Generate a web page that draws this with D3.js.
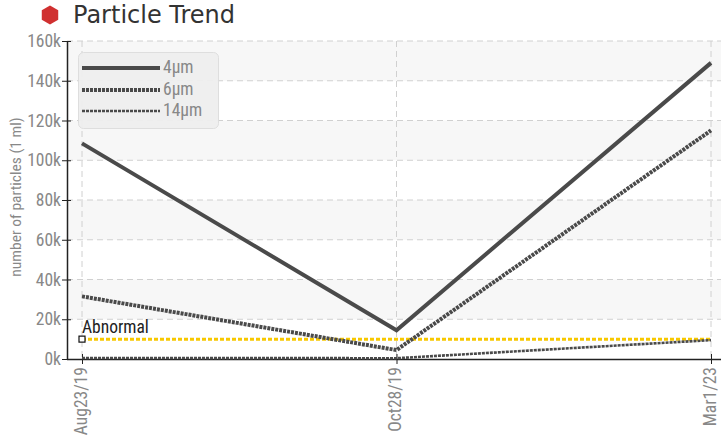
<!DOCTYPE html>
<html><head><meta charset="utf-8">
<script src="https://cdn.jsdelivr.net/npm/d3@7"></script>
<style>body{margin:0;background:#fff;}svg{display:block;}</style>
</head><body>
<svg id="c" width="721" height="443"></svg>
<script>
const dates = ["Aug23/19", "Oct28/19", "Mar1/23"];
const series4 = [108500, 14500, 149000];
const series6 = [31500, 4500, 115000];
const series14 = [500, 400, 9500];
const abnormal = [10000, 10000, 10000];
const seriesNames = ["4\u03bcm", "6\u03bcm", "14\u03bcm"];
const yTicks = [0, 20000, 40000, 60000, 80000, 100000, 120000, 140000, 160000];

const cond = "'Liberation Sans Narrow','Roboto Condensed','Roboto',sans-serif";
const svg = d3.select("#c");
const L = 67, R = 721, T = 41, B = 359;
const x = d3.scalePoint().domain(dates).range([82, 711]);
const y = d3.scaleLinear().domain([0, 160000]).range([B, T]);

// alternating bands, top band gray
const g = svg.append("g");
yTicks.slice(0, -1).forEach((v, i) => {
  const top = yTicks[i + 1];
  const idxFromTop = yTicks.length - 2 - i;
  if (idxFromTop % 2 === 0) {
    g.append("rect").attr("x", L).attr("width", R - L)
      .attr("y", y(top)).attr("height", y(v) - y(top)).attr("fill", "#f7f7f7");
  }
});

// horizontal grid
svg.append("g").selectAll("line").data(yTicks.slice(1)).join("line")
  .attr("x1", L).attr("x2", R).attr("y1", d => y(d)).attr("y2", d => y(d))
  .attr("stroke", "#d0d0d0").attr("stroke-dasharray", "6,4");
// vertical grid
svg.append("g").selectAll("line").data(dates).join("line")
  .attr("x1", d => x(d)).attr("x2", d => x(d)).attr("y1", T).attr("y2", B)
  .attr("stroke", "#d0d0d0").attr("stroke-dasharray", "6,4");

// y axis
const yAxis = svg.append("g").attr("transform", `translate(${L},0)`)
  .call(d3.axisLeft(y).tickValues(yTicks).tickFormat(d => (d / 1000) + "k").tickSizeInner(5).tickSizeOuter(0));
yAxis.select(".domain").attr("stroke", "#222").attr("stroke-width", 1.5);
yAxis.selectAll(".tick line").attr("stroke", "#222").attr("x2", -5).attr("x1", 4);
yAxis.selectAll(".tick text").attr("fill", "#888").attr("font-size", 17.5).attr("font-family", cond).attr("x", -6);

// x axis
const xAxis = svg.append("g").attr("transform", `translate(0,${B})`)
  .call(d3.axisBottom(x).tickSizeInner(4).tickSizeOuter(0));
xAxis.select(".domain").attr("d", `M${L},0.5H${R}`).attr("stroke", "#222").attr("stroke-width", 1.5);
xAxis.selectAll(".tick line").attr("stroke", "#222").attr("y1", -5).attr("y2", 5);
xAxis.selectAll(".tick text").attr("fill", "#888").attr("font-size", 17.5).attr("font-family", cond)
  .attr("transform", "rotate(-90)").attr("text-anchor", "end").attr("dy", "0.3em").attr("y", -1).attr("x", -8);

// y label
svg.append("text").attr("transform", `translate(21,${197}) rotate(-90)`)
  .attr("text-anchor", "middle").attr("fill", "#888").attr("font-size", 15.5).attr("font-family", cond)
  .text("number of particles (1 ml)");

// lines
const line = d3.line().x((d, i) => x(dates[i])).y(d => y(d));
const styles = [
  { data: series4, w: 4, dash: null },
  { data: series6, w: 4, dash: "3,1" },
  { data: series14, w: 2.6, dash: "3,1" }
];
// abnormal
svg.append("path").attr("d", line(abnormal)).attr("fill", "none")
  .attr("stroke", "#f7c800").attr("stroke-width", 3).attr("stroke-dasharray", "4,2");
svg.append("rect").attr("x", x(dates[0]) - 3).attr("y", y(abnormal[0]) - 3).attr("width", 6).attr("height", 6)
  .attr("fill", "#fff").attr("stroke", "#111").attr("stroke-width", 1.2);
svg.append("text").attr("x", x(dates[0])).attr("y", y(abnormal[0]) - 6)
  .attr("fill", "#222").attr("font-size", 17.5).attr("font-family", cond).text("Abnormal");

styles.slice().reverse().forEach(s => {
  const p = svg.append("path").attr("d", line(s.data)).attr("fill", "none")
    .attr("stroke", "#4a4a4a").attr("stroke-width", s.w).attr("stroke-linejoin", "miter");
  if (s.dash) p.attr("stroke-dasharray", s.dash);
});

// legend
const lg = svg.append("g");
lg.append("rect").attr("x", 78.5).attr("y", 52.5).attr("width", 140).attr("height", 76).attr("rx", 5)
  .attr("fill", "#efefef").attr("stroke", "#ddd").attr("opacity", 0.95);
const ly = [68, 90, 111];
styles.forEach((s, i) => {
  const l = lg.append("line").attr("x1", 82).attr("x2", 160).attr("y1", ly[i]).attr("y2", ly[i])
    .attr("stroke", "#4a4a4a").attr("stroke-width", s.w);
  if (s.dash) l.attr("stroke-dasharray", s.dash);
  lg.append("text").attr("x", 163).attr("y", ly[i]).attr("dy", "0.3em")
    .attr("fill", "#888").attr("font-size", 17.5).attr("font-family", cond).text(seriesNames[i]);
});

// title
const hex = d3.range(6).map(k => {
  const a = Math.PI / 3 * k + Math.PI / 6;
  return [50 + 9.5 * Math.cos(a), 15 + 9.5 * Math.sin(a)];
});
svg.append("path").attr("d", "M" + hex.join("L") + "Z").attr("fill", "#d03030");
svg.append("text").attr("x", 73).attr("y", 23).attr("fill", "#333").attr("font-size", 24)
  .attr("font-family", "'DejaVu Sans',sans-serif").text("Particle Trend");
</script>
</body></html>
